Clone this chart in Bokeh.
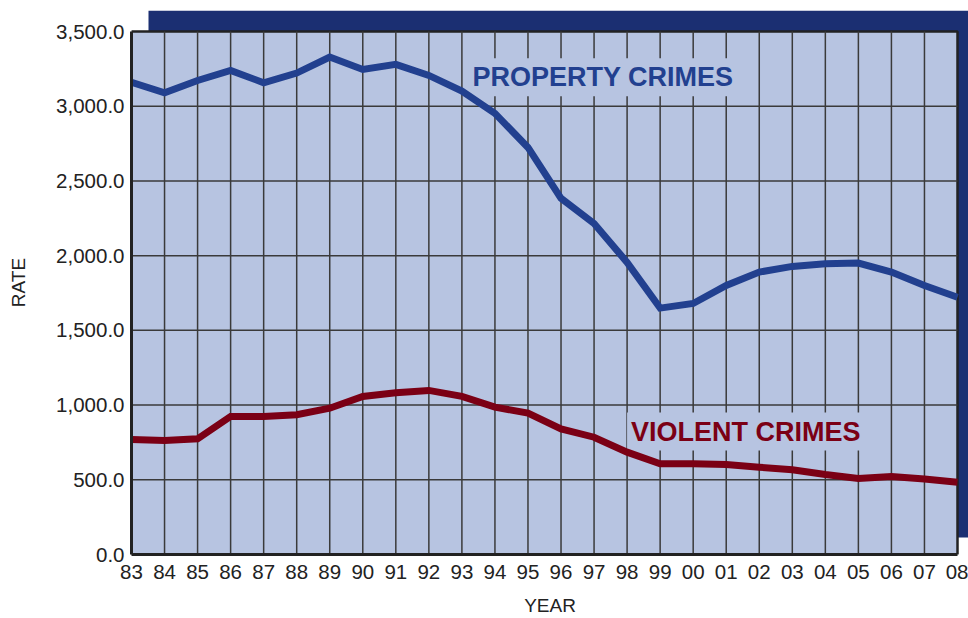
from bokeh.plotting import figure
from bokeh.models import Range1d, FixedTicker, NumeralTickFormatter
from bokeh.core.properties import value
from bokeh.embed import file_html
from bokeh.resources import INLINE

# ---- data ----
years = [1983, 1984, 1985, 1986, 1987, 1988, 1989, 1990, 1991, 1992, 1993, 1994, 1995,
         1996, 1997, 1998, 1999, 2000, 2001, 2002, 2003, 2004, 2005, 2006, 2007, 2008]
year_labels = ["83", "84", "85", "86", "87", "88", "89", "90", "91", "92", "93", "94", "95",
               "96", "97", "98", "99", "00", "01", "02", "03", "04", "05", "06", "07", "08"]
property_crimes = [3160, 3090, 3172, 3240, 3157, 3222, 3329, 3246, 3280, 3206, 3101, 2952, 2724,
                   2383, 2215, 1955, 1649, 1680, 1800, 1890, 1928, 1946, 1950, 1890, 1800, 1722]
violent_crimes = [770, 763, 774, 924, 924, 935, 979, 1058, 1082, 1098, 1058, 986, 946,
                  841, 785, 685, 607, 607, 602, 584, 567, 535, 509, 522, 505, 484]
y_ticks = [0, 500, 1000, 1500, 2000, 2500, 3000, 3500]

# ---- style ----
BG = "#b7c4e1"
SHADOW = "#1b2f72"
BLUE = "#22408f"
RED = "#7b0015"
INK = "#222222"
FONT = "Liberation Sans"

W, H = 968, 618
LEFT, TOP, BOTTOM = 131, 10, 64
frame_w = W - LEFT
frame_h = H - TOP - BOTTOM
x0, x1 = years[0], years[-1]
y0, y1 = y_ticks[0], y_ticks[-1]
plot_px_w = 826.0
plot_px_h = 523.0
ppx = plot_px_w / (x1 - x0)
ppy = plot_px_h / (y1 - y0)
x_end = x0 + frame_w / ppx
y_end = y0 + frame_h / ppy

p = figure(width=W, height=H, output_backend="svg", toolbar_location=None,
           x_range=Range1d(x0, x_end), y_range=Range1d(y0, y_end),
           min_border_left=LEFT, min_border_right=0, min_border_top=TOP,
           min_border_bottom=BOTTOM)
p.background_fill_color = "white"
p.border_fill_color = "white"
p.outline_line_color = None
p.grid.visible = False

# shadow behind the plot area
p.quad(left=x0 + 17 / ppx, right=x_end, top=y_end, bottom=y0 + 17 / ppy,
       fill_color=SHADOW, line_color=None)
# plot area
p.quad(left=x0, right=x1, top=y1, bottom=y0, fill_color=BG, line_color=INK, line_width=2.5)

# grid lines
inner_years = years[1:-1]
p.segment(x0=inner_years, y0=[y0] * len(inner_years), x1=inner_years, y1=[y1] * len(inner_years),
          line_color="#3a3a3a", line_width=1.5)
inner_y = y_ticks[1:-1]
p.segment(x0=[x0] * len(inner_y), y0=inner_y, x1=[x1] * len(inner_y), y1=inner_y,
          line_color="#3a3a3a", line_width=1.5)

# series labels (drawn under the lines, with a background that hides the grid)
p.text(x=[1993.2], y=[3193], text=["PROPERTY CRIMES"], text_font=value(FONT),
       text_font_size="27px", text_font_style="bold", text_color=BLUE,
       text_baseline="middle", text_align="left",
       background_fill_color=BG, padding=4)
p.text(x=[1998.0], y=[823], text=["VIOLENT CRIMES"], text_font=value(FONT),
       text_font_size="27px", text_font_style="bold", text_color=RED,
       text_baseline="middle", text_align="left",
       background_fill_color=BG, padding=4)

# series
p.line(years, property_crimes, line_color=BLUE, line_width=7, line_join="miter")
p.line(years, violent_crimes, line_color=RED, line_width=7, line_join="miter")

# axes
p.xaxis.ticker = FixedTicker(ticks=years)
p.xaxis.major_label_overrides = {y: l for y, l in zip(years, year_labels)}
p.xaxis.bounds = (x0, x1)
p.yaxis.ticker = FixedTicker(ticks=y_ticks)
p.yaxis.formatter = NumeralTickFormatter(format="0,0.0")
p.yaxis.bounds = (y0, y1)
for ax in (p.xaxis, p.yaxis):
    ax.axis_line_color = INK
    ax.axis_line_width = 3
    ax.major_tick_line_color = None
    ax.minor_tick_line_color = None
    ax.major_label_text_font = FONT
    ax.major_label_text_font_size = "20.5px"
    ax.major_label_text_color = INK
    ax.axis_label_text_font = FONT
    ax.axis_label_text_font_size = "19px"
    ax.axis_label_text_font_style = "normal"
    ax.axis_label_text_color = INK
p.xaxis.major_label_standoff = 4
p.yaxis.major_label_standoff = 1
p.xaxis.axis_label = "YEAR"
p.yaxis.axis_label = "RATE"
p.xaxis.axis_label_standoff = 13
p.yaxis.axis_label_standoff = 24

open("out.html", "w").write(file_html(p, INLINE))
